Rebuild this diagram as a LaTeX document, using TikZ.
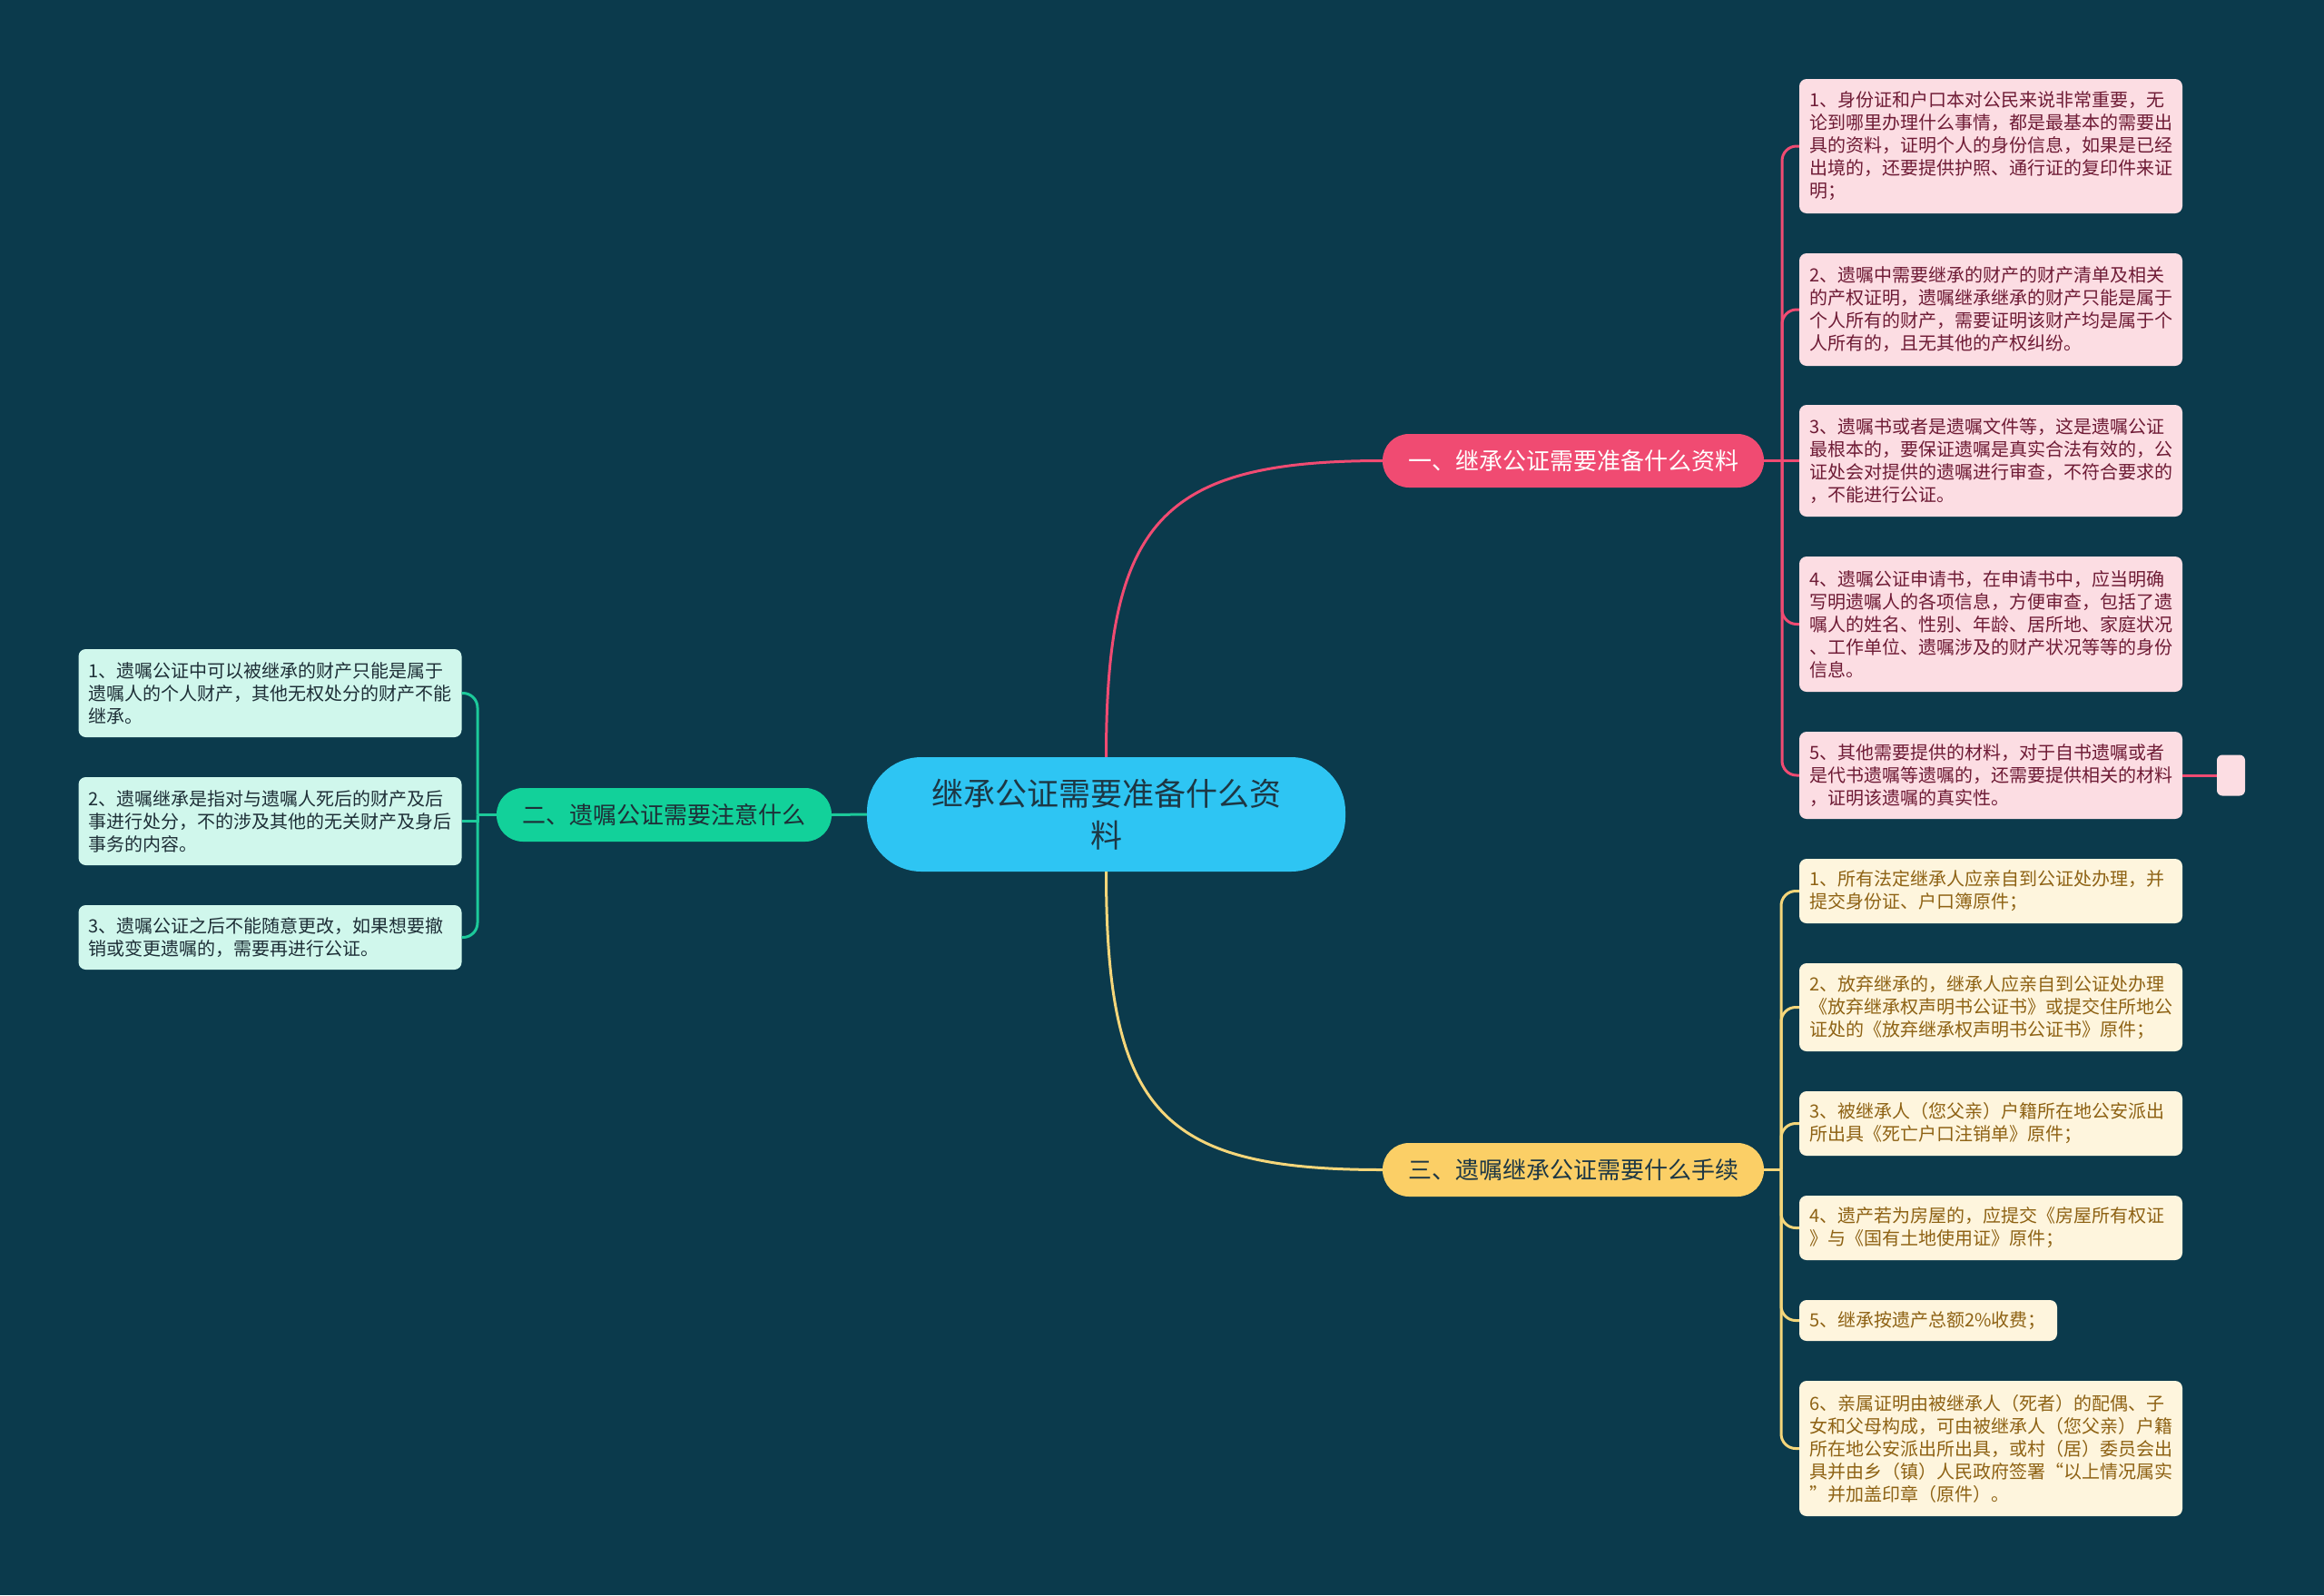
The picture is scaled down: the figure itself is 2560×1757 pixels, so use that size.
\documentclass[tikz,border=0pt]{standalone}
\usepackage{fontspec}
\newfontfamily\cjk{Noto Sans CJK SC}
\definecolor{bg}{HTML}{0B3A4C}
\definecolor{cmain}{HTML}{2EC5F3}
\definecolor{cmaintext}{HTML}{1D3744}
\definecolor{cpink}{HTML}{F04B72}
\definecolor{cpinkfill}{HTML}{FCDDE3}
\definecolor{cpinktext}{HTML}{6E1B35}
\definecolor{cgreen}{HTML}{12D19A}
\definecolor{cgreenline}{HTML}{1CC99A}
\definecolor{cgreenfill}{HTML}{D0F7EC}
\definecolor{cgreentext}{HTML}{1E2F37}
\definecolor{cyellow}{HTML}{FBCF66}
\definecolor{cyellowline}{HTML}{F5D67A}
\definecolor{cyellowfill}{HTML}{FEF5DD}
\definecolor{cyellowtext}{HTML}{8E6214}
\begin{document}
\begin{tikzpicture}[x=1pt,y=-1pt,
  leaf/.style={rounded corners=8pt, align=left, inner xsep=11pt, inner ysep=0pt,
    font=\cjk\fontsize{20}{25}\selectfont, text width=400pt},
  pinkleaf/.style={leaf, fill=cpinkfill, text=cpinktext},
  yellowleaf/.style={leaf, fill=cyellowfill, text=cyellowtext},
  greenleaf/.style={leaf, fill=cgreenfill, text=cgreentext},
  branch/.style={rounded corners=29pt, minimum height=59pt, inner sep=0pt,
    font=\cjk\fontsize{26}{30}\selectfont},
  pinkline/.style={draw=cpink, line width=3pt},
  greenline/.style={draw=cgreenline, line width=3pt},
  yellowline/.style={draw=cyellowline, line width=3pt},
  subcorner/.style={rounded corners=16pt}
]
\fill[bg] (0,0) rectangle (2560,1757);
\useasboundingbox (0,0) rectangle (2560,1757);

% central node
\node[rounded corners=60pt, fill=cmain, text=cmaintext, minimum width=527pt, minimum height=126pt,
  inner sep=0pt, align=center, font=\cjk\fontsize{35}{46}\selectfont] (c) at (1218.5,897)
  {继承公证需要准备什么资\\料};

% branches
\node[branch, fill=cpink, text=white, minimum width=420pt] (b1) at (1733,507.5) {一、继承公证需要准备什么资料};
\node[branch, fill=cgreen, text=cgreentext, minimum width=369pt] (b2) at (731.5,897.5) {二、遗嘱公证需要注意什么};
\node[branch, fill=cyellow, text=cmaintext, minimum width=420pt] (b3) at (1733,1288.5) {三、遗嘱继承公证需要什么手续};

% pink leaves
\node[pinkleaf, minimum height=148pt] (p1) at (2193,161) {1、身份证和户口本对公民来说非常重要，无\\论到哪里办理什么事情，都是最基本的需要出\\具的资料，证明个人的身份信息，如果是已经\\出境的，还要提供护照、通行证的复印件来证\\明；};
\node[pinkleaf, minimum height=124pt] (p2) at (2193,341) {2、遗嘱中需要继承的财产的财产清单及相关\\的产权证明，遗嘱继承继承的财产只能是属于\\个人所有的财产，需要证明该财产均是属于个\\人所有的，且无其他的产权纠纷。};
\node[pinkleaf, minimum height=123pt] (p3) at (2193,507.5) {3、遗嘱书或者是遗嘱文件等，这是遗嘱公证\\最根本的，要保证遗嘱是真实合法有效的，公\\证处会对提供的遗嘱进行审查，不符合要求的\\，不能进行公证。};
\node[pinkleaf, minimum height=149pt] (p4) at (2193,687.5) {4、遗嘱公证申请书，在申请书中，应当明确\\写明遗嘱人的各项信息，方便审查，包括了遗\\嘱人的姓名、性别、年龄、居所地、家庭状况\\、工作单位、遗嘱涉及的财产状况等等的身份\\信息。};
\node[pinkleaf, minimum height=96pt] (p5) at (2193,854) {5、其他需要提供的材料，对于自书遗嘱或者\\是代书遗嘱等遗嘱的，还需要提供相关的材料\\，证明该遗嘱的真实性。};
\node[rounded corners=6pt, fill=cpinkfill, minimum width=31pt, minimum height=45pt, inner sep=0pt] (p5x) at (2457.5,854) {};

% yellow leaves
\node[yellowleaf, minimum height=71pt] (y1) at (2193,981.5) {1、所有法定继承人应亲自到公证处办理，并\\提交身份证、户口簿原件；};
\node[yellowleaf, minimum height=97pt] (y2) at (2193,1109.5) {2、放弃继承的，继承人应亲自到公证处办理\\《放弃继承权声明书公证书》或提交住所地公\\证处的《放弃继承权声明书公证书》原件；};
\node[yellowleaf, minimum height=71pt] (y3) at (2193,1237.5) {3、被继承人（您父亲）户籍所在地公安派出\\所出具《死亡户口注销单》原件；};
\node[yellowleaf, minimum height=71pt] (y4) at (2193,1352.5) {4、遗产若为房屋的，应提交《房屋所有权证\\》与《国有土地使用证》原件；};
\node[yellowleaf, text width=262pt, minimum height=45pt] (y5) at (2124,1454.5) {5、继承按遗产总额2\%收费；};
\node[yellowleaf, minimum height=149pt] (y6) at (2193,1595.5) {6、亲属证明由被继承人（死者）的配偶、子\\女和父母构成，可由被继承人（您父亲）户籍\\所在地公安派出所出具，或村（居）委员会出\\具并由乡（镇）人民政府签署“以上情况属实\\”并加盖印章（原件）。};

% green leaves
\node[greenleaf, minimum height=97pt] (g1) at (297.5,763.5) {1、遗嘱公证中可以被继承的财产只能是属于\\遗嘱人的个人财产，其他无权处分的财产不能\\继承。};
\node[greenleaf, minimum height=97pt] (g2) at (297.5,904.5) {2、遗嘱继承是指对与遗嘱人死后的财产及后\\事进行处分，不的涉及其他的无关财产及身后\\事务的内容。};
\node[greenleaf, minimum height=71pt] (g3) at (297.5,1032.5) {3、遗嘱公证之后不能随意更改，如果想要撤\\销或变更遗嘱的，需要再进行公证。};

% main connectors
\draw[pinkline] (c.north) .. controls (1218.5,573) and (1280,507.5) .. (b1.west);
\draw[yellowline] (c.south) .. controls (1218.5,1226) and (1280,1288.5) .. (b3.west);
\draw[greenline] (c.west) -- (b2.east);

% pink sub connectors
\coordinate (pj) at (1963,507.5);
\draw[pinkline] (b1.east) -- (p3.west);
\draw[pinkline, subcorner] (pj) |- (p1.west);
\draw[pinkline, subcorner] (pj) |- (p2.west);
\draw[pinkline, subcorner] (pj) |- (p4.west);
\draw[pinkline, subcorner] (pj) |- (p5.west);
\draw[pinkline] (p5.east) -- (p5x.west);

% yellow sub connectors
\coordinate (yj) at (1962,1288.5);
\draw[yellowline] (b3.east) -- (yj);
\draw[yellowline, subcorner] (yj) |- (y1.west);
\draw[yellowline, subcorner] (yj) |- (y2.west);
\draw[yellowline, subcorner] (yj) |- (y3.west);
\draw[yellowline, subcorner] (yj) |- (y4.west);
\draw[yellowline, subcorner] (yj) |- (y5.west);
\draw[yellowline, subcorner] (yj) |- (y6.west);

% green sub connectors
\coordinate (gj) at (526,897.5);
\draw[greenline] (b2.west) -- (gj);
\draw[greenline, subcorner] (gj) |- (g1.east);
\draw[greenline] (gj) |- (g2.east);
\draw[greenline, subcorner] (gj) |- (g3.east);
\end{tikzpicture}
\end{document}
